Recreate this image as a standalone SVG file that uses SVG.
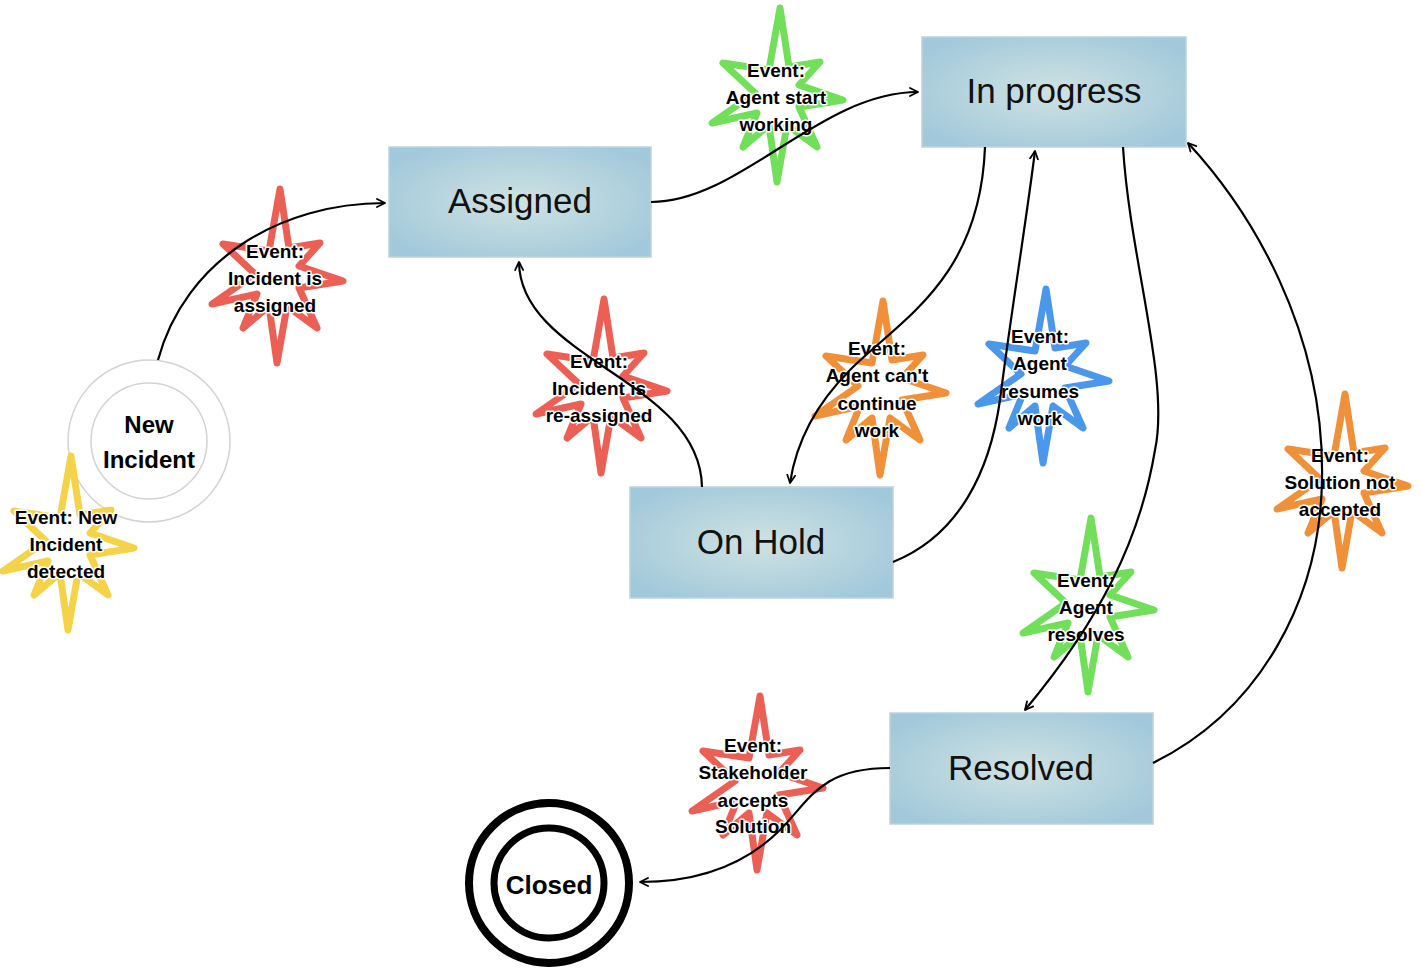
<svg xmlns="http://www.w3.org/2000/svg" xmlns:xlink="http://www.w3.org/1999/xlink" width="1421" height="970" viewBox="0 0 1421 970">
<style>
.box{fill:url(#boxg);stroke:#bfd2da;stroke-width:1.5}
.boxt{font-family:"Liberation Sans",Arial,sans-serif;font-size:35px;fill:#111;text-anchor:middle}
.ev{font-family:"Liberation Sans",Arial,sans-serif;font-size:19px;font-weight:bold;fill:#000;text-anchor:middle;stroke:#fff;stroke-width:3;paint-order:stroke;stroke-linejoin:round}
.st{fill:none;stroke-width:7;stroke-linejoin:round;stroke-linecap:round}
.conn{fill:none;stroke:#000;stroke-width:2.2;marker-end:url(#arr)}
.bold{font-family:"Liberation Sans",Arial,sans-serif;font-weight:bold;fill:#000;text-anchor:middle}
</style>
<defs>
<radialGradient id="boxg" cx="50%" cy="50%" r="60%">
<stop offset="0" stop-color="#cfe2e2"/>
<stop offset="1" stop-color="#a2c9db"/>
</radialGradient>
<marker id="arr" viewBox="0 0 10 10" refX="9" refY="5" markerWidth="10" markerHeight="10" markerUnits="userSpaceOnUse" orient="auto">
<path d="M1,1 L9,5 L1,9" fill="none" stroke="#000" stroke-width="1.8" stroke-linecap="round" stroke-linejoin="round"/>
</marker>
<path id="star" d="M3,-87 L12,-28 L43,-33 L22,-10 L66,5 L22,12 L40,52 L10,30 L0,87 L-8,30 L-34,52 L-20,18 L-65,28 L-22,-2 L-54,-32 L-8,-25 Z"/>
</defs>
<rect width="1421" height="970" fill="#fff"/>

<g id="new-incident">
<circle cx="149" cy="441" r="81" fill="#fff" stroke="#d3d3d3" stroke-width="1.5"/>
<circle cx="149" cy="441" r="58" fill="#fff" stroke="#d3d3d3" stroke-width="1.5"/>
<text class="bold" x="149" y="433" font-size="24">New</text>
<text class="bold" x="149" y="468" font-size="24">Incident</text>
</g>
<g id="assigned">
<rect class="box" x="389" y="147" width="262" height="110"/>
<text class="boxt" x="520" y="213">Assigned</text>
</g>
<g id="in-progress">
<rect class="box" x="922" y="37" width="264" height="110"/>
<text class="boxt" x="1054" y="103">In progress</text>
</g>
<g id="on-hold">
<rect class="box" x="630" y="487" width="263" height="111"/>
<text class="boxt" x="761" y="554">On Hold</text>
</g>
<g id="resolved">
<rect class="box" x="890" y="713" width="263" height="111"/>
<text class="boxt" x="1021" y="780">Resolved</text>
</g>
<g id="closed">
<circle cx="549" cy="883" r="80" fill="#fff" stroke="#000" stroke-width="8"/>
<circle cx="549" cy="883" r="55" fill="#fff" stroke="#000" stroke-width="7"/>
<text class="bold" x="549" y="894" font-size="26">Closed</text>
</g>

<g id="ev-detected">
<use xlink:href="#star" href="#star" class="st" stroke="#f5d348" transform="translate(68,543)"/>
<text class="ev" x="66" y="524">Event: New</text>
<text class="ev" x="66" y="551">Incident</text>
<text class="ev" x="66" y="578">detected</text>
</g>
<g id="ev-assigned">
<use xlink:href="#star" href="#star" class="st" stroke="#ec5f55" transform="translate(277,276)"/>
<text class="ev" x="275" y="258">Event:</text>
<text class="ev" x="275" y="285">Incident is</text>
<text class="ev" x="275" y="312">assigned</text>
</g>
<g id="ev-start">
<use xlink:href="#star" href="#star" class="st" stroke="#72df5b" transform="translate(777,95)"/>
<text class="ev" x="776" y="77">Event:</text>
<text class="ev" x="776" y="104">Agent start</text>
<text class="ev" x="776" y="131">working</text>
</g>
<g id="ev-reassigned">
<use xlink:href="#star" href="#star" class="st" stroke="#ec5f55" transform="translate(601,386)"/>
<text class="ev" x="599" y="368">Event:</text>
<text class="ev" x="599" y="395">Incident is</text>
<text class="ev" x="599" y="422">re-assigned</text>
</g>
<g id="ev-cant">
<use xlink:href="#star" href="#star" class="st" stroke="#f0913a" transform="translate(880,388)"/>
<text class="ev" x="877" y="355">Event:</text>
<text class="ev" x="877" y="382">Agent can't</text>
<text class="ev" x="877" y="410">continue</text>
<text class="ev" x="877" y="437">work</text>
</g>
<g id="ev-resumes">
<use xlink:href="#star" href="#star" class="st" stroke="#4a97ec" transform="translate(1043,376)"/>
<text class="ev" x="1040" y="343">Event:</text>
<text class="ev" x="1040" y="370">Agent</text>
<text class="ev" x="1040" y="398">resumes</text>
<text class="ev" x="1040" y="425">work</text>
</g>
<g id="ev-resolves">
<use xlink:href="#star" href="#star" class="st" stroke="#72df5b" transform="translate(1088,605)"/>
<text class="ev" x="1086" y="587">Event:</text>
<text class="ev" x="1086" y="614">Agent</text>
<text class="ev" x="1086" y="641">resolves</text>
</g>
<g id="ev-notaccepted">
<use xlink:href="#star" href="#star" class="st" stroke="#f0913a" transform="translate(1342,481)"/>
<text class="ev" x="1340" y="462">Event:</text>
<text class="ev" x="1340" y="489">Solution not</text>
<text class="ev" x="1340" y="516">accepted</text>
</g>
<g id="ev-accepts">
<use xlink:href="#star" href="#star" class="st" stroke="#ec5f55" transform="translate(757,783)"/>
<text class="ev" x="753" y="752">Event:</text>
<text class="ev" x="753" y="779">Stakeholder</text>
<text class="ev" x="753" y="807">accepts</text>
<text class="ev" x="753" y="833">Solution</text>
</g>

<g id="connectors">
<path class="conn" d="M158,360 C185,260 280,203 385,203"/>
<path class="conn" d="M651,202 C740,202 820,92 918,92"/>
<path class="conn" d="M702,487 C700,380 520,360 519,262"/>
<path class="conn" d="M985,147 C980,280 900,320 850,370 C810,410 795,450 790,483"/>
<path class="conn" d="M893,562 C960,535 990,470 1000,400 C1010,320 1025,230 1035,151"/>
<path class="conn" d="M1123,147 C1130,260 1170,380 1155,450 C1140,540 1100,620 1025,710"/>
<path class="conn" d="M1153,763 C1260,710 1320,600 1322,480 C1325,330 1250,210 1188,143"/>
<path class="conn" d="M890,768 C820,768 810,800 780,830 C740,870 690,882 640,882"/>
</g>
</svg>
